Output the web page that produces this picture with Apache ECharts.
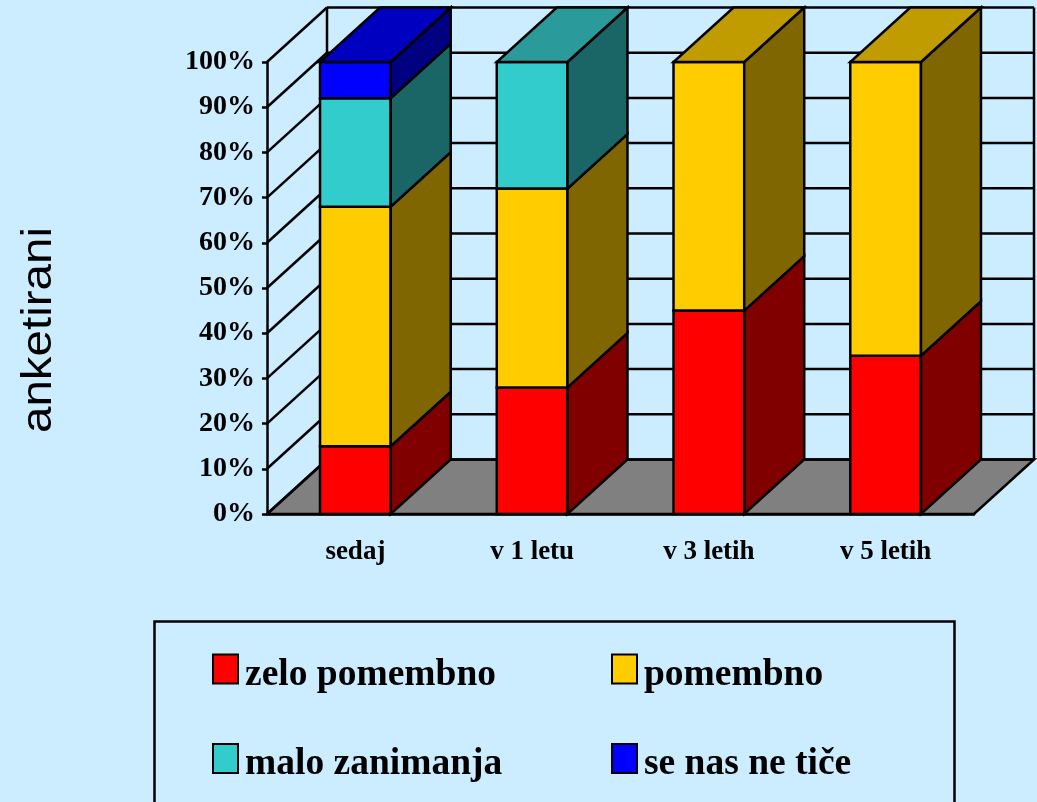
<!DOCTYPE html>
<html>
<head>
<meta charset="utf-8">
<style>

html, body {
	margin: 0;
	padding: 0;
	background: #ccecff;
}

#graphElem {
	width: 1037px;
	height: 802px;
}

</style>
</head>
<body>

<div id="graphElem"></div>

<script src="https://cdn.jsdelivr.net/npm/echarts@6/dist/echarts.min.js"></script>

<script>

let categories = ["sedaj", "v 1 letu", "v 3 letih", "v 5 letih"];
let percentTicks = [0, 10, 20, 30, 40, 50, 60, 70, 80, 90, 100];

let zeloPomembno = [15, 28, 45, 35];
let pomembno = [53, 44, 55, 65];
let maloZanimanja = [24, 28, 0, 0];
let seNasNeTice = [8, 0, 0, 0];

// how far the back wall sits from the front plane, in pixels
let depthX = 60,
	depthY = 54.5;

let graphElem = document.getElementById("graphElem");
let chart = echarts.init(graphElem);

chart.setOption(generateChartData());


function generateChartData() {
	let layers = [
		{name: "zelo pomembno", values: zeloPomembno, front: "#ff0000", side: "#800000", top: "#c00000"},
		{name: "pomembno", values: pomembno, front: "#ffcc00", side: "#806600", top: "#c09c00"},
		{name: "malo zanimanja", values: maloZanimanja, front: "#33cccc", side: "#1a6666", top: "#2a9a9a"},
		{name: "se nas ne tiče", values: seNasNeTice, front: "#0000ff", side: "#000080", top: "#0000c0"}
	];
	
	let totals = categories.map(() => 0);
	
	let barSeries = layers.map(layer => {
		let data = layer.values.map((value, i) => {
			let base = totals[i];
			totals[i] += value;
			return [i, base, totals[i]];
		});
		
		return {
			name: layer.name,
			type: "custom",
			renderItem: (params, api) => renderBar(api, layer),
			encode: {x: 0, y: [1, 2]},
			data: data,
			z: 3,
			itemStyle: {color: layer.front, borderColor: "#000", borderWidth: 2.5}
		};
	});
	
	let legendBase = {
		orient: "vertical",
		icon: "rect",
		padding: 0,
		itemWidth: 25,
		itemHeight: 29,
		itemGap: 49,
		formatter: "{a|{name}}",
		textStyle: {
			rich: {
				a: {
					fontFamily: "Liberation Serif",
					fontWeight: "bold",
					fontSize: 37.5,
					color: "#000",
					padding: [12, 0, 0, 2]
				}
			}
		}
	};
	
	return {
		animation: false,
		backgroundColor: "#ccecff",
		textStyle: {fontFamily: "Liberation Serif"},
		grid: {left: 267, right: 63, top: 62, height: 452},
		xAxis: {
			type: "category",
			data: categories,
			z: 5,
			axisLine: {lineStyle: {color: "#000", width: 2.5}},
			axisTick: {length: 8, lineStyle: {color: "#000", width: 2.5}},
			axisLabel: {
				margin: 25,
				fontFamily: "Liberation Serif",
				fontWeight: "bold",
				fontSize: 27,
				color: "#000"
			}
		},
		yAxis: {
			type: "value",
			min: 0,
			max: 100,
			interval: 10,
			z: 5,
			splitLine: {show: false},
			axisLine: {show: true, lineStyle: {color: "#000", width: 2.5}},
			axisTick: {show: true, length: 5, lineStyle: {color: "#000", width: 2.5}},
			axisLabel: {
				margin: 12,
				formatter: "{value}%",
				fontFamily: "Liberation Serif",
				fontWeight: "bold",
				fontSize: 28,
				color: "#000"
			}
		},
		legend: [
			Object.assign({left: 212, top: 653.5, data: ["zelo pomembno", "malo zanimanja"]}, legendBase),
			Object.assign({left: 611, top: 653.5, data: ["pomembno", "se nas ne tiče"]}, legendBase)
		],
		graphic: [
			{
				type: "rect",
				silent: true,
				shape: {x: 154.5, y: 621.5, width: 800, height: 300},
				style: {fill: "none", stroke: "#000", lineWidth: 2.5}
			},
			{
				type: "text",
				x: 39,
				y: 330,
				rotation: Math.PI / 2,
				scaleY: 0.9,
				style: {
					text: "anketirani",
					fontFamily: "Liberation Sans",
					fontSize: 47.5,
					fill: "#000",
					align: "center",
					verticalAlign: "middle"
				}
			}
		],
		series: [
			{
				type: "custom",
				renderItem: renderFloor,
				encode: {x: 0, y: 1},
				data: [[0, 0]],
				z: 1
			},
			{
				type: "custom",
				renderItem: renderGridLine,
				encode: {x: 0, y: 1},
				data: percentTicks.map(tick => [0, tick]),
				z: 2
			},
			...barSeries
		]
	};
}


function poly(points, fill) {
	return {
		type: "polygon",
		shape: {points: points},
		style: {fill: fill, stroke: "#000", lineWidth: 2.5, lineJoin: "miter"}
	};
}

function line(from, to) {
	return {
		type: "line",
		shape: {x1: from[0], y1: from[1], x2: to[0], y2: to[1]},
		style: {stroke: "#000", lineWidth: 2.5}
	};
}

function plotEdges(api, value) {
	let bandWidth = api.size([1, 0])[0],
		left = api.coord([0, value])[0] - bandWidth/2,
		right = left + bandWidth * categories.length,
		y = api.coord([0, value])[1];
	
	return {left, right, y};
}

function renderFloor(params, api) {
	let {left, right, y} = plotEdges(api, 0),
		top = plotEdges(api, 100).y;
	
	return {
		type: "group",
		children: [
			poly([[left, y], [right, y], [right + depthX, y - depthY], [left + depthX, y - depthY]], "#808080"),
			line([left + depthX, top - depthY], [left + depthX, y - depthY]),
			line([right + depthX, top - depthY], [right + depthX, y - depthY])
		]
	};
}

function renderGridLine(params, api) {
	let {left, right, y} = plotEdges(api, api.value(1));
	
	return {
		type: "group",
		children: [
			line([left, y], [left + depthX, y - depthY]),
			line([left + depthX, y - depthY], [right + depthX, y - depthY])
		]
	};
}

function renderBar(api, layer) {
	let i = api.value(0),
		base = api.value(1),
		top = api.value(2);
	
	if (top <= base) return null;
	
	let barWidth = api.size([1, 0])[0] * 0.4,
		center = api.coord([i, 0])[0],
		left = center - barWidth/2,
		right = center + barWidth/2,
		y0 = api.coord([i, base])[1],
		y1 = api.coord([i, top])[1];
	
	let children = [
		poly([[left, y1], [right, y1], [right, y0], [left, y0]], layer.front),
		poly([[right, y1], [right + depthX, y1 - depthY], [right + depthX, y0 - depthY], [right, y0]], layer.side)
	];
	
	if (top >= 100) {
		children.push(poly([[left, y1], [right, y1], [right + depthX, y1 - depthY], [left + depthX, y1 - depthY]], layer.top));
	}
	
	return {type: "group", children: children};
}

</script>
</body>
</html>
